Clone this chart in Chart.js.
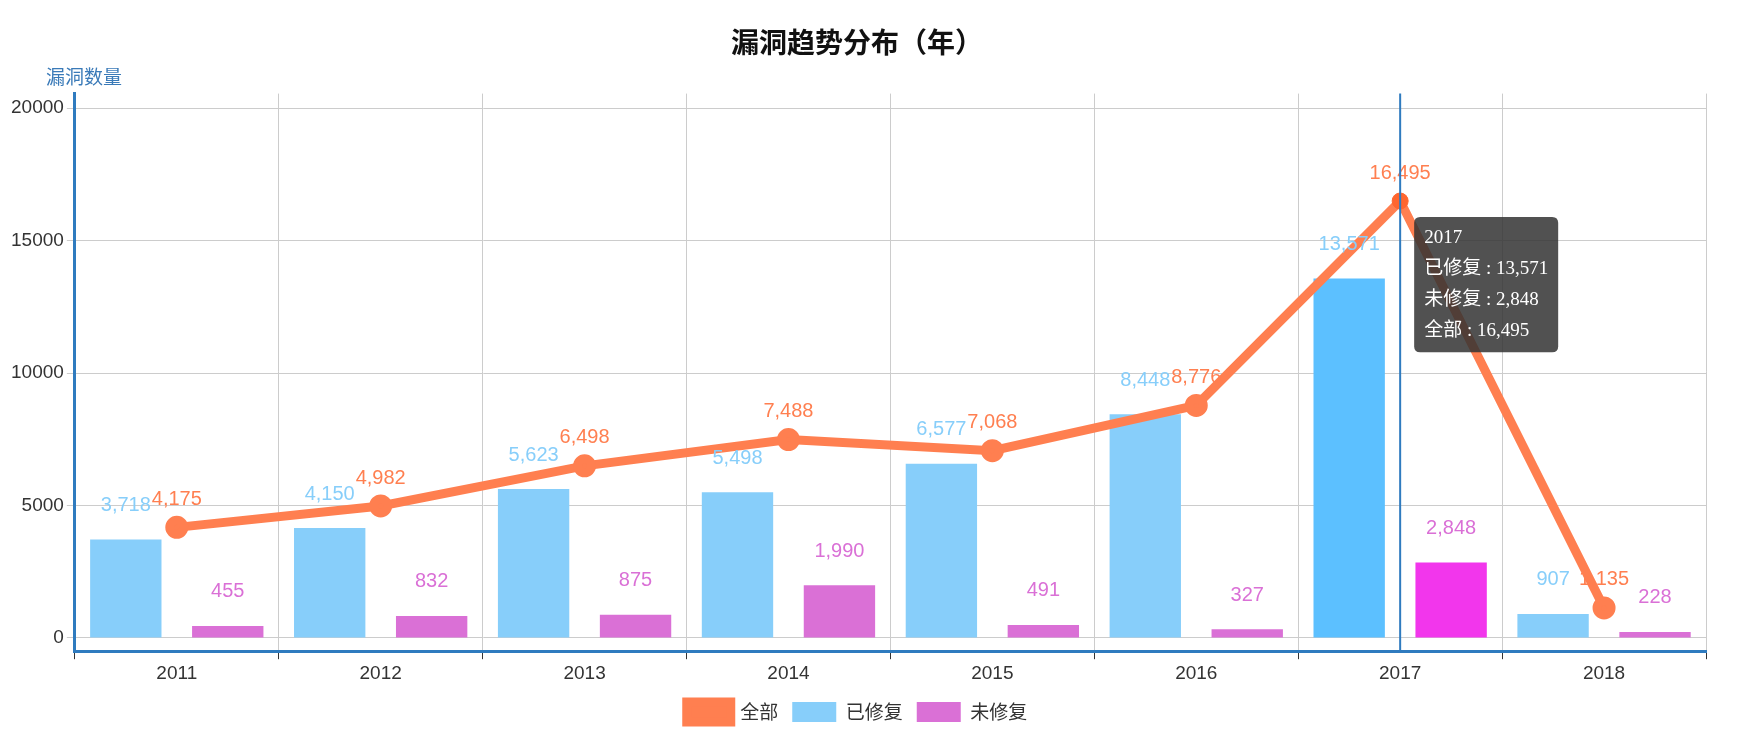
<!DOCTYPE html>
<html><head><meta charset="utf-8">
<script src="https://cdn.jsdelivr.net/npm/chart.js@4/dist/chart.umd.min.js"></script>
<style>html,body{margin:0;background:#fff}#wrap{width:1746px;height:732px}</style>
</head><body><div id="wrap"><canvas id="c"></canvas></div>
<script>
const years = ['2011','2012','2013','2014','2015','2016','2017','2018'];
const fixed = [3718, 4150, 5623, 5498, 6577, 8448, 13571, 907];
const unfixed = [455, 832, 875, 1990, 491, 327, 2848, 228];
const total = [4175, 4982, 6498, 7488, 7068, 8776, 16495, 1135];
const yTicks = [0, 5000, 10000, 15000, 20000];
const FONT = '"Liberation Sans", "Noto Sans CJK SC", sans-serif';
const fmt = v => v.toLocaleString('en-US');

const valueLabels = {
  id: 'valueLabels',
  afterDatasetsDraw(chart) {
    const ctx = chart.ctx;
    ctx.save();
    ctx.font = '20px ' + FONT;
    ctx.textAlign = 'center';
    ctx.textBaseline = 'bottom';
    chart.data.datasets.forEach((ds, di) => {
      chart.getDatasetMeta(di).data.forEach((el, i) => {
        ctx.fillStyle = ds.type === 'line' ? '#ff7f50' : ds.backgroundColor;
        const off = ds.type === 'line' ? 18 : 24;
        ctx.fillText(fmt(ds.data[i]), el.x, el.y - off);
      });
    });
    ctx.restore();
  }
};

const extras = {
  id: 'extras',
  afterDraw(chart) {
    const ctx = chart.ctx, a = chart.chartArea;
    const x = chart.scales.x.getPixelForValue(6);
    ctx.save();
    ctx.strokeStyle = '#2f7bbf';
    ctx.lineWidth = 2;
    ctx.beginPath(); ctx.moveTo(x, a.top); ctx.lineTo(x, a.bottom); ctx.stroke();
    ctx.fillStyle = '#3a7ab8';
    ctx.font = '19px "Noto Sans CJK SC", sans-serif';
    ctx.textAlign = 'left';
    ctx.fillText('漏洞数量', 46, 77);
    ctx.restore();
  }
};

Chart.Tooltip.positioners.side = function(items) {
  if (!items.length) return false;
  const p = items.find(it => it.datasetIndex === 0) || items[0];
  return { x: p.element.x + 20, y: p.element.y + 14 };
};

const chart = new Chart(document.getElementById('c'), {
  data: {
    labels: years,
    datasets: [
      { type: 'line', label: '全部', data: total, borderColor: '#ff7f50', backgroundColor: '#ff7f50',
        borderWidth: 9, pointRadius: 7, pointHoverRadius: 8, order: 0 },
      { type: 'bar', label: '已修复', data: fixed, backgroundColor: '#87cefa', barPercentage: 0.7, categoryPercentage: 1, order: 1 },
      { type: 'bar', label: '未修复', data: unfixed, backgroundColor: '#da70d6', barPercentage: 0.7, categoryPercentage: 1, order: 1 }
    ]
  },
  options: {
    responsive: true, maintainAspectRatio: false, animation: false,
    layout: { padding: { left: 8, right: 40, top: 0 } },
    interaction: { mode: 'index', intersect: false },
    plugins: {
      title: { display: true, text: '漏洞趋势分布（年）', color: '#111', font: { family: '"Noto Sans CJK SC"', size: 28, weight: 'bold' }, padding: { top: 26, bottom: 34 } },
      legend: { position: 'bottom', labels: { color: '#333', font: { family: '"Noto Sans CJK SC"', size: 19 }, boxWidth: 44, boxHeight: 20, padding: 14 } },
      tooltip: {
        position: 'side', xAlign: 'left', yAlign: 'top', caretSize: 0,
        backgroundColor: 'rgba(50,50,50,0.85)', displayColors: false,
        titleFont: { family: 'Liberation Serif', size: 19, weight: 'normal' },
        bodyFont: { family: '"Liberation Serif", "Noto Sans CJK SC"', size: 19 },
        padding: 10, bodySpacing: 8, titleMarginBottom: 8,
        itemSort: (a, b) => (a.datasetIndex === 0 ? 9 : a.datasetIndex) - (b.datasetIndex === 0 ? 9 : b.datasetIndex),
        callbacks: { label: it => it.dataset.label + ' : ' + fmt(it.raw) }
      }
    },
    scales: {
      x: {
        grid: { color: '#ccc', offset: true, tickLength: 8, tickColor: '#333' },
        border: { color: '#2f7bbf', width: 3 },
        ticks: { color: '#333', font: { family: FONT, size: 19 } }
      },
      y: {
        min: -500, max: 20550,
        afterBuildTicks: ax => { ax.ticks = yTicks.map(v => ({ value: v })); },
        grid: { color: '#ccc' },
        border: { color: '#2f7bbf', width: 3 },
        ticks: { color: '#333', font: { family: FONT, size: 19 }, callback: v => String(v) }
      }
    }
  },
  plugins: [valueLabels, extras]
});

const act = [0, 1, 2].map(d => ({ datasetIndex: d, index: 6 }));
chart.setActiveElements(act);
chart.tooltip.setActiveElements(act, { x: 0, y: 0 });
chart.update();
</script></body></html>
